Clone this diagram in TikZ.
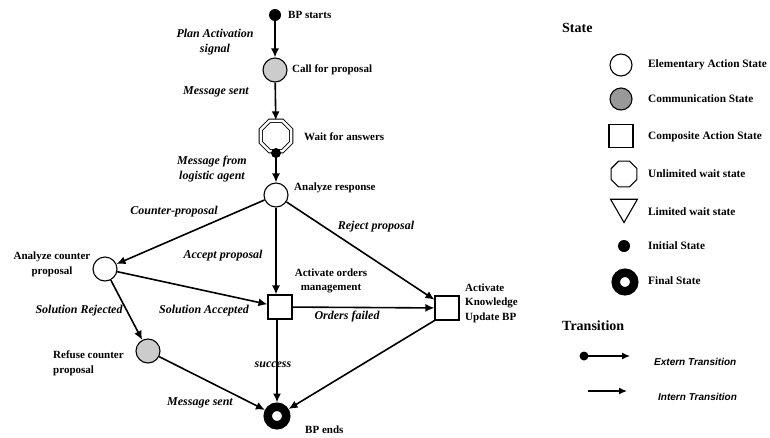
\documentclass[tikz,border=0pt]{standalone}
\usepackage{fontspec}
\setmainfont{Liberation Serif}
\newfontfamily\arialfont{Liberation Sans}
\usetikzlibrary{arrows.meta,shapes.geometric}
\definecolor{stgrey}{HTML}{CCCCCC}
\definecolor{lggrey}{HTML}{999999}
\tikzset{
  lbl/.style={font=\fontsize{11}{14.5}\selectfont\bfseries, inner sep=0pt},
  elbl/.style={font=\fontsize{12}{15}\selectfont\bfseries\itshape, inner sep=0pt, align=center},
  hdr/.style={font=\fontsize{14}{16}\selectfont\bfseries, inner sep=0pt, anchor=west},
  lgt/.style={font=\fontsize{11.3}{13}\selectfont\bfseries, inner sep=0pt, anchor=west},
  tlgt/.style={font=\fontsize{10}{12}\selectfont\arialfont\bfseries\itshape, inner sep=0pt, anchor=west},
  elem/.style={circle, draw, line width=1.1pt, fill=white, minimum size=24pt, inner sep=0pt},
  comm/.style={elem, fill=stgrey},
  comp/.style={rectangle, draw, line width=1.1pt, fill=white, minimum size=24pt, inner sep=0pt},
  initst/.style={circle, fill=black, minimum size=12pt, inner sep=0pt},
  finalst/.style={circle, draw, line width=8.5pt, minimum size=18.5pt, inner sep=0pt, outer sep=4.25pt},
  waitst/.style={regular polygon, regular polygon sides=8, draw, double, double distance=2.5pt, line width=0.9pt, minimum size=33pt, inner sep=0pt},
  tr/.style={line width=1.6pt, -{Latex[length=9pt,width=8pt]}},
  ltr/.style={line width=1.3pt, -{Latex[length=8pt,width=7pt]}},
}
\begin{document}
\begin{tikzpicture}[x=1pt,y=-1pt]
\useasboundingbox (0,0) rectangle (770,437);

% states
\node[initst] (start) at (275,15) {};
\node[comm] (call) at (275,70) {};
\node[waitst] (wait) at (276,136) {};
\node[elem] (resp) at (276,195) {};
\node[elem] (counter) at (105,269) {};
\node[comm] (refuse) at (148,351) {};
\node[comp] (orders) at (280,307) {};
\node[comp] (know) at (447,308) {};
\node[finalst] (final) at (277,416) {};
\coordinate (waitdot) at (276,153);

% state labels
\node[lbl, anchor=west] (tstart) at (288,15) {BP starts};
\node[lbl, anchor=west] (tcall) at (292,70) {Call for proposal};
\node[lbl, anchor=west] (twait) at (304,137) {Wait for answers};
\node[lbl, anchor=west] (tresp) at (294,188) {Analyze response};
\node[lbl, align=center] (tcounter) at (52,264.5) {Analyze counter\\proposal};
\node[lbl, anchor=west, align=left] (trefuse) at (53,363.5) {Refuse counter\\proposal};
\node[lbl, align=center] (torders) at (331,281) {Activate orders\\management};
\node[lbl, anchor=west, align=left] (tknow) at (465,303) {Activate\\Knowledge\\Update BP};
\node[lbl, anchor=west] (tfinal) at (305,430) {BP ends};

% transitions
\draw[tr] (start) -- (call);
\draw[tr] (call) -- (wait);
\fill (waitdot) circle (5pt);
\draw[tr] (waitdot) -- (resp);
\draw[tr] (resp) -- (counter);
\draw[tr] (resp) -- (resp |- orders.north);
\draw[tr] (resp) -- (know);
\draw[tr] (counter) -- (orders);
\draw[tr] (counter) -- (refuse);
\draw[tr] (orders) -- (know);
\draw[tr] (orders.south -| final) -- (final);
\draw[tr] (know.south west) -- (final);
\draw[tr] (refuse) -- (final);

% transition labels
\node[elbl] (l1) at (215,42.5) {Plan Activation\\signal};
\node[elbl] (l2) at (216,92) {Message sent};
\node[elbl] (l3) at (212,169.5) {Message from\\logistic agent};
\node[elbl] (l4) at (174,212) {Counter-proposal};
\node[elbl] (l5) at (223,256) {Accept proposal};
\node[elbl] (l6) at (376,227) {Reject proposal};
\node[elbl] (l7) at (79,311) {Solution Rejected};
\node[elbl] (l8) at (204,311) {Solution Accepted};
\node[elbl] (l9) at (347,317) {Orders failed};
\node[elbl] (l10) at (273,365) {success};
\node[elbl] (l11) at (200,403) {Message sent};

% legend
\node[hdr] (hstate) at (562,28) {State};
\node[elem, minimum size=22pt] (lg1) at (621,65) {};
\node[lgt] (lt1) at (648,65) {Elementary Action State};
\node[elem, minimum size=22pt, fill=lggrey] (lg2) at (621,99) {};
\node[lgt] (lt2) at (648,99) {Communication State};
\node[comp, minimum width=24pt, minimum height=23pt] (lg3) at (621,136) {};
\node[lgt] (lt3) at (648,137) {Composite Action State};
\node[regular polygon, regular polygon sides=8, draw, line width=1.1pt, minimum size=28pt, inner sep=0pt] (lg4) at (624,174) {};
\node[lgt] (lt4) at (648,174) {Unlimited wait state};
\node[regular polygon, regular polygon sides=3, shape border rotate=180, draw, line width=1.1pt, minimum size=31pt, inner sep=0pt] (lg5) at (624,207) {};
\node[lgt] (lt5) at (648,212) {Limited wait state};
\node[initst] (lg6) at (624,246) {};
\node[lgt] (lt6) at (648,246) {Initial State};
\node[finalst] (lg7) at (625,282) {};
\node[lgt] (lt7) at (648,281) {Final State};
\node[hdr] (htrans) at (562,326) {Transition};
\coordinate (ex1) at (584,356);
\coordinate (ex2) at (630,356);
\fill (ex1) circle (4.5pt);
\draw[ltr] (ex1) -- (ex2);
\node[tlgt] (lt8) at (654,362) {Extern Transition};
\coordinate (in1) at (588,391);
\coordinate (in2) at (627,391);
\draw[ltr] (in1) -- (in2);
\node[tlgt] (lt9) at (658,397) {Intern Transition};
\end{tikzpicture}
\end{document}
